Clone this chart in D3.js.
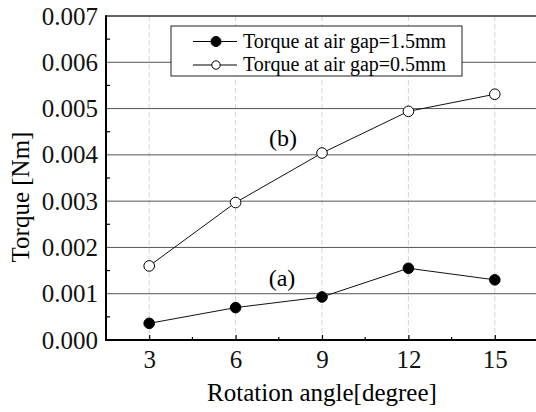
<!DOCTYPE html>
<html>
<head>
<meta charset="utf-8">
<script src="https://cdn.jsdelivr.net/npm/d3@7"></script>
<style>
body { margin: 0; background: #fff; }
svg { display: block; }
svg text { font-family: "Liberation Serif", "Times New Roman", Tinos, "DejaVu Serif", serif !important; }
</style>
</head>
<body>
<div id="chart"></div>
<script>
const angles = [3, 6, 9, 12, 15];
const torqueGap15 = [0.00036, 0.00070, 0.00093, 0.00155, 0.00130];
const torqueGap05 = [0.00160, 0.00297, 0.00404, 0.00494, 0.00531];
const yTicks = [0, 0.001, 0.002, 0.003, 0.004, 0.005, 0.006, 0.007];
const legendLabels = ["Torque at air gap=1.5mm", "Torque at air gap=0.5mm"];

const w = 536, h = 412;
const plotLeft = 106, plotTop = 16, plotBottom = 340, plotRight = 538;

const xScale = d3.scaleLinear().domain([1.5, 16.5]).range([plotLeft, plotRight]);
const yScale = d3.scaleLinear().domain([0, 0.007]).range([plotBottom, plotTop]);

const svg = d3.select("#chart").append("svg")
    .attr("width", w)
    .attr("height", h);

// grid
svg.append("g").selectAll("line")
    .data(angles)
    .enter().append("line")
    .attr("x1", d => xScale(d)).attr("x2", d => xScale(d))
    .attr("y1", plotTop).attr("y2", plotBottom)
    .attr("stroke", "#d4d4d4")
    .attr("stroke-dasharray", "5,3")
    .attr("stroke-width", 1);

svg.append("g").selectAll("line")
    .data(yTicks.slice(1, -1))
    .enter().append("line")
    .attr("x1", plotLeft).attr("x2", plotRight)
    .attr("y1", d => yScale(d)).attr("y2", d => yScale(d))
    .attr("stroke", "#555")
    .attr("stroke-width", 1);

// top frame
svg.append("line")
    .attr("x1", plotLeft).attr("x2", plotRight)
    .attr("y1", plotTop).attr("y2", plotTop)
    .attr("stroke", "#333").attr("stroke-width", 1.5);

// axes
const xAxis = d3.axisBottom(xScale)
    .tickValues(angles)
    .tickSize(-5)
    .tickPadding(10)
    .tickFormat(d3.format("d"));
const gx = svg.append("g")
    .attr("transform", "translate(0," + plotBottom + ")")
    .call(xAxis);
gx.select(".domain").remove();
gx.selectAll("text").attr("font-size", 25).attr("fill", "#111");
gx.selectAll("line").attr("stroke", "#000").attr("stroke-width", 1.2);

const xMinor = d3.range(4.5, 16.5, 3);
svg.append("g").selectAll("line")
    .data(xMinor)
    .enter().append("line")
    .attr("x1", d => xScale(d)).attr("x2", d => xScale(d))
    .attr("y1", plotBottom).attr("y2", plotBottom - 3)
    .attr("stroke", "#000").attr("stroke-width", 1.2);

const yAxis = d3.axisLeft(yScale)
    .tickValues(yTicks)
    .tickSize(0)
    .tickPadding(8)
    .tickFormat(d3.format(".3f"));
const gy = svg.append("g")
    .attr("transform", "translate(" + plotLeft + ",0)")
    .call(yAxis);
gy.select(".domain").remove();
gy.selectAll("text").attr("font-size", 25).attr("fill", "#111");

const yMinor = d3.range(0.0005, 0.007, 0.001);
svg.append("g").selectAll("line")
    .data(yMinor)
    .enter().append("line")
    .attr("x1", plotLeft).attr("x2", plotLeft + 4)
    .attr("y1", d => yScale(d)).attr("y2", d => yScale(d))
    .attr("stroke", "#000").attr("stroke-width", 1.2);

svg.append("line")
    .attr("x1", plotLeft).attr("x2", plotRight)
    .attr("y1", plotBottom).attr("y2", plotBottom)
    .attr("stroke", "#000").attr("stroke-width", 2);
svg.append("line")
    .attr("x1", plotLeft).attr("x2", plotLeft)
    .attr("y1", plotTop - 0.75).attr("y2", plotBottom + 1)
    .attr("stroke", "#000").attr("stroke-width", 2);

// series
const line = d3.line()
    .x((d, i) => xScale(angles[i]))
    .y(d => yScale(d));

const series = [
    { values: torqueGap15, fill: "#000" },
    { values: torqueGap05, fill: "#fff" }
];

series.forEach(function (s) {
    svg.append("path")
        .datum(s.values)
        .attr("d", line)
        .attr("fill", "none")
        .attr("stroke", "#111")
        .attr("stroke-width", 1);
    svg.append("g").selectAll("circle")
        .data(s.values)
        .enter().append("circle")
        .attr("cx", (d, i) => xScale(angles[i]))
        .attr("cy", d => yScale(d))
        .attr("r", 5.3)
        .attr("fill", s.fill)
        .attr("stroke", "#000")
        .attr("stroke-width", 1);
});

// annotations
svg.append("text")
    .attr("x", 282).attr("y", 286)
    .attr("text-anchor", "middle")
    .attr("font-size", 24)
    .text("(a)");
svg.append("text")
    .attr("x", 283).attr("y", 146)
    .attr("text-anchor", "middle")
    .attr("font-size", 24)
    .text("(b)");

// legend
const legend = svg.append("g");
legend.append("rect")
    .attr("x", 171).attr("y", 26)
    .attr("width", 291).attr("height", 50)
    .attr("fill", "#fff")
    .attr("stroke", "#222")
    .attr("stroke-width", 1);

legendLabels.forEach(function (lab, i) {
    const y = 41.5 + i * 23.5;
    legend.append("line")
        .attr("x1", 193).attr("x2", 237)
        .attr("y1", y).attr("y2", y)
        .attr("stroke", "#000").attr("stroke-width", 1);
    legend.append("circle")
        .attr("cx", 216).attr("cy", y)
        .attr("r", i === 0 ? 5 : 4.2)
        .attr("fill", series[i].fill)
        .attr("stroke", "#000").attr("stroke-width", 1);
    legend.append("text")
        .attr("x", 243).attr("y", y + 6)
        .attr("font-size", 20)
        .text(lab);
});

// axis titles
svg.append("text")
    .attr("x", 322)
    .attr("y", 401)
    .attr("text-anchor", "middle")
    .attr("font-size", 25)
    .text("Rotation angle[degree]");

svg.append("text")
    .attr("transform", "rotate(-90)")
    .attr("x", -197)
    .attr("y", 29)
    .attr("text-anchor", "middle")
    .attr("font-size", 25)
    .text("Torque [Nm]");
</script>
</body>
</html>
